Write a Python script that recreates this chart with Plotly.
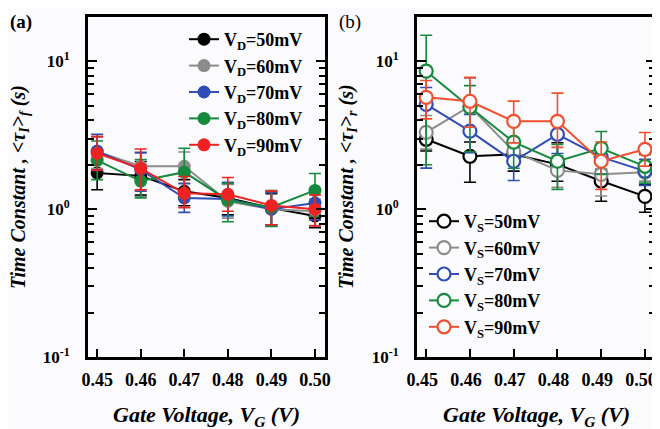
import plotly.graph_objects as go

gate_v = [0.45, 0.46, 0.47, 0.48, 0.49, 0.50]

# Panel (a): <tau>_f, filled markers
labels_a = ["V<sub>D</sub>=50mV", "V<sub>D</sub>=60mV", "V<sub>D</sub>=70mV",
            "V<sub>D</sub>=80mV", "V<sub>D</sub>=90mV"]
tau_f_50 = [1.76, 1.68, 1.32, 1.19, 1.02, 0.90]
tau_f_60 = [2.45, 1.95, 1.95, 1.13, 1.00, 0.97]
tau_f_70 = [2.47, 1.85, 1.19, 1.17, 1.00, 1.10]
tau_f_80 = [2.14, 1.55, 1.78, 1.15, 1.03, 1.34]
tau_f_90 = [2.39, 1.89, 1.28, 1.26, 1.06, 1.00]
# error bar factors (upper, lower) as multiplicative spreads
errhi_f_50 = [1.25, 1.25, 1.20, 1.25, 1.25, 1.20]
errlo_f_50 = [1.30, 1.35, 1.25, 1.30, 1.30, 1.20]
errhi_f_60 = [1.25, 1.25, 1.25, 1.30, 1.30, 1.20]
errlo_f_60 = [1.30, 1.60, 1.30, 1.30, 1.30, 1.25]
errhi_f_70 = [1.30, 1.30, 1.25, 1.30, 1.30, 1.20]
errlo_f_70 = [1.35, 1.40, 1.25, 1.30, 1.30, 1.30]
errhi_f_80 = [1.35, 1.40, 1.45, 1.30, 1.30, 1.30]
errlo_f_80 = [1.35, 1.30, 1.50, 1.40, 1.35, 1.50]
errhi_f_90 = [1.30, 1.35, 1.30, 1.30, 1.25, 1.25]
errlo_f_90 = [1.30, 1.40, 1.25, 1.30, 1.35, 1.30]

# Panel (b): <tau>_r, open markers
labels_b = ["V<sub>S</sub>=50mV", "V<sub>S</sub>=60mV", "V<sub>S</sub>=70mV",
            "V<sub>S</sub>=80mV", "V<sub>S</sub>=90mV"]
tau_r_50 = [2.97, 2.28, 2.35, 2.01, 1.55, 1.22]
tau_r_60 = [3.31, 4.97, 2.46, 1.83, 1.72, 1.78]
tau_r_70 = [5.12, 3.37, 2.11, 3.21, 2.25, 1.81]
tau_r_80 = [8.58, 4.89, 2.84, 2.11, 2.58, 1.95]
tau_r_90 = [5.71, 5.37, 3.93, 3.93, 2.11, 2.54]
errhi_r_50 = [1.15, 1.25, 1.20, 1.40, 1.20, 1.20]
errlo_r_50 = [1.20, 1.50, 1.30, 1.30, 1.37, 1.28]
errhi_r_60 = [1.30, 1.55, 1.20, 1.25, 1.30, 1.15]
errlo_r_60 = [1.30, 1.55, 1.20, 1.30, 1.40, 1.15]
errhi_r_70 = [1.30, 1.30, 1.25, 1.30, 1.20, 1.20]
errlo_r_70 = [2.70, 1.40, 1.35, 1.35, 1.30, 1.25]
errhi_r_80 = [1.75, 1.40, 1.30, 1.30, 1.30, 1.20]
errlo_r_80 = [4.30, 2.00, 1.50, 1.55, 1.50, 1.30]
errhi_r_90 = [1.30, 1.45, 1.37, 1.55, 1.35, 1.30]
errlo_r_90 = [1.40, 1.50, 1.40, 1.50, 1.55, 1.30]

colors_a = ["#000000", "#8c8c8c", "#2f4db5", "#168a3c", "#ee2222"]
colors_b = ["#000000", "#8c8c8c", "#2f4db5", "#168a3c", "#f05030"]

series_a = [(tau_f_50, errhi_f_50, errlo_f_50), (tau_f_60, errhi_f_60, errlo_f_60),
            (tau_f_70, errhi_f_70, errlo_f_70), (tau_f_80, errhi_f_80, errlo_f_80),
            (tau_f_90, errhi_f_90, errlo_f_90)]
series_b = [(tau_r_50, errhi_r_50, errlo_r_50), (tau_r_60, errhi_r_60, errlo_r_60),
            (tau_r_70, errhi_r_70, errlo_r_70), (tau_r_80, errhi_r_80, errlo_r_80),
            (tau_r_90, errhi_r_90, errlo_r_90)]

FONT = "Liberation Serif"
BG = "#fbfbfd"

fig = go.Figure()

def err(vals, hi, lo):
    plus = [v * (h - 1) for v, h in zip(vals, hi)]
    minus = [v * (1 - 1 / l) for v, l in zip(vals, lo)]
    return dict(type="data", symmetric=False, array=plus, arrayminus=minus,
                thickness=1.6, width=6)

for (vals, hi, lo), name, c in zip(series_a, labels_a, colors_a):
    e = err(vals, hi, lo); e["color"] = c
    fig.add_trace(go.Scatter(
        x=gate_v, y=vals, name=name, mode="lines+markers",
        line=dict(color=c, width=2),
        marker=dict(symbol="circle", size=13, color=c),
        error_y=e, xaxis="x", yaxis="y", legend="legend"))

for (vals, hi, lo), name, c in zip(series_b, labels_b, colors_b):
    e = err(vals, hi, lo); e["color"] = c
    fig.add_trace(go.Scatter(
        x=gate_v, y=vals, name=name, mode="lines+markers",
        line=dict(color=c, width=2),
        marker=dict(symbol="circle", size=13, color=BG,
                    line=dict(color=c, width=2.2)),
        error_y=e, xaxis="x2", yaxis="y2", legend="legend2"))

# page has an 8px body margin; figure is sized to fit the window
OFF = 8
W, H = 660 - OFF, 429 - OFF
def px_x(p): return (p - OFF) / W
def px_y(p): return (H - (p - OFF)) / H

ytickvals = [0.1, 1, 10]
yticktext = ["10<sup>-1</sup>", "10<sup>0</sup>", "10<sup>1</sup>"]
minor_vals = [m * d for d in (0.1, 1, 10) for m in range(2, 10) if m * d <= 20]

xtickfont = dict(family=FONT, size=18, color="black", weight="bold")
ytickfont = dict(family=FONT, size=17, color="black", weight="bold")

def xaxis(domain, anchor, shift=0):
    return dict(domain=domain, anchor=anchor, range=[0.4479, 0.5023], tickvals=gate_v,
                ticktext=[f"{v:.2f}" for v in gate_v], automargin=False,
                ticks="inside", ticklen=8, tickwidth=2, tickcolor="black",
                ticklabelstandoff=4, ticklabeloverflow="allow", ticklabelshift=shift,
                showline=True, linewidth=3, linecolor="black", mirror=True,
                showgrid=False, zeroline=False, tickfont=xtickfont)

def yaxis(domain, anchor):
    return dict(domain=domain, anchor=anchor, type="log", range=[-1, 1.3],
                tickmode="array", tickvals=ytickvals, ticktext=yticktext,
                automargin=False, ticklabelstandoff=12,
                ticks="inside", ticklen=9, tickwidth=2, tickcolor="black",
                minor=dict(tickmode="array", tickvals=minor_vals, ticks="inside",
                           ticklen=6, tickwidth=2, tickcolor="black", showgrid=False),
                showline=True, linewidth=3, linecolor="black", mirror="ticks",
                showgrid=False, zeroline=False, tickfont=ytickfont)

ydom = [px_y(357), px_y(17)]
legfont = dict(family=FONT, size=18, weight="bold", color="black")
xtitle_font = dict(family=FONT, size=22, color="black", weight="bold", style="italic")
ytitle_font = dict(family=FONT, size=20, color="black", weight="bold", style="italic")

def ann(text, x, y, font, angle=0, xanchor="center", yanchor="middle"):
    return dict(text=text, x=px_x(x), y=px_y(y), xref="paper", yref="paper",
                xanchor=xanchor, yanchor=yanchor, showarrow=False, font=font,
                textangle=angle)

fig.update_layout(
    width=W, height=H,
    margin=dict(l=0, r=0, t=0, b=0, autoexpand=False),
    paper_bgcolor=BG, plot_bgcolor=BG,
    font=dict(family=FONT, color="black"),
    xaxis=xaxis([px_x(88), px_x(325)], "y"),
    yaxis=yaxis(ydom, "x"),
    xaxis2=xaxis([px_x(417), px_x(655)], "y2", shift=-4),
    yaxis2=yaxis(ydom, "x2"),
    legend=dict(x=px_x(184), y=px_y(21), xanchor="left", yanchor="top",
                bgcolor="rgba(0,0,0,0)", font=legfont, tracegroupgap=0),
    legend2=dict(x=px_x(424), y=px_y(203), xanchor="left", yanchor="top",
                 bgcolor="rgba(0,0,0,0)", font=legfont, tracegroupgap=0),
    annotations=[
        ann("(a)", 8, 9, dict(family=FONT, size=19, weight="bold"),
            xanchor="left", yanchor="top"),
        ann("(b)", 337, 9, dict(family=FONT, size=19),
            xanchor="left", yanchor="top"),
        ann("Gate Voltage, V<sub>G</sub> (V)", 206, 416, xtitle_font),
        ann("Gate Voltage, V<sub>G</sub> (V)", 536, 416, xtitle_font),
        ann("Time Constant , <τ<sub>I</sub>><sub>f</sub> (s)", 19, 187, ytitle_font, -90),
        ann("Time Constant , <τ<sub>I</sub>><sub>r</sub> (s)", 347, 187, ytitle_font, -90),
    ],
)

fig.write_html("out.html")
